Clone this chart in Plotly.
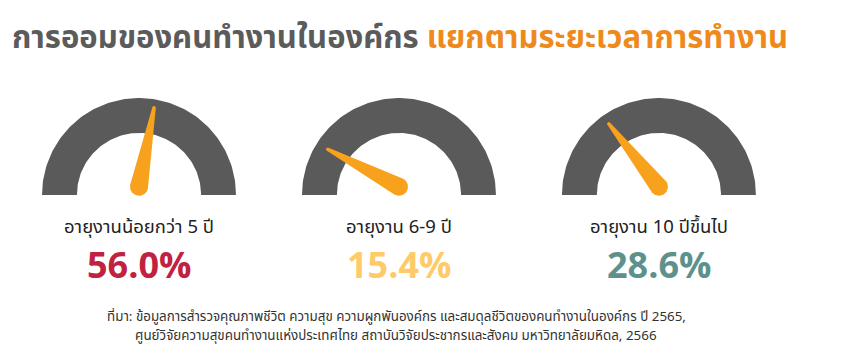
import numpy as np
import plotly.graph_objects as go

# ---- data ----
categories = ["อายุงานน้อยกว่า 5 ปี", "อายุงาน 6-9 ปี", "อายุงาน 10 ปีขึ้นไป"]
values = [56.0, 15.4, 28.6]
value_colors = ["#C0223F", "#FFCB69", "#5E918C"]
title_main = "การออมของคนทำงานในองค์กร"
title_sub = "แยกตามระยะเวลาการทำงาน"
source_lines = [
    "ที่มา: ข้อมูลการสำรวจคุณภาพชีวิต ความสุข ความผูกพันองค์กร และสมดุลชีวิตของคนทำงานในองค์กร ปี 2565,",
    "ศูนย์วิจัยความสุขคนทำงานแห่งประเทศไทย สถาบันวิจัยประชากรและสังคม มหาวิทยาลัยมหิดล, 2566",
]

# ---- style ----
THAI = "Noto Sans Thai, Noto Sans Thai UI, Noto Sans, Open Sans, sans-serif"
ARC_COLOR = "#5A5A5A"
NEEDLE_COLOR = "#F8A11C"
SPACING = 2.68
R_OUT, R_IN = 1.0, 0.64
PIVOT_DY, R_BASE, R_TIP, NEEDLE_LEN = 0.085, 0.093, 0.018, 0.83
OFF = 8  # page body margin
W, H = 856, 364
UNIT = 97.0
CX0, BASE = 139 - OFF, 195 - OFF

fig = go.Figure()

for i, (cat, v, col) in enumerate(zip(categories, values, value_colors)):
    cx = i * SPACING
    # gauge arc
    t = np.linspace(0, np.pi, 120)
    ax = np.concatenate([cx + R_OUT * np.cos(t), cx + R_IN * np.cos(t[::-1])])
    ay = np.concatenate([R_OUT * np.sin(t), R_IN * np.sin(t[::-1])])
    fig.add_trace(go.Scatter(x=ax, y=ay, fill="toself", mode="lines",
                             line=dict(width=0, color=ARC_COLOR), fillcolor=ARC_COLOR,
                             hoverinfo="skip", showlegend=False))
    # needle
    th = np.pi * (1 - v / 100.0)
    px, py = cx, PIVOT_DY
    tx, ty = px + NEEDLE_LEN * np.cos(th), py + NEEDLE_LEN * np.sin(th)
    bt = np.linspace(th + np.pi / 2, th + 3 * np.pi / 2, 40)
    tt = np.linspace(th - np.pi / 2, th + np.pi / 2, 20)
    nx = np.concatenate([px + R_BASE * np.cos(bt), tx + R_TIP * np.cos(tt)])
    ny = np.concatenate([py + R_BASE * np.sin(bt), ty + R_TIP * np.sin(tt)])
    nx = np.append(nx, nx[0]); ny = np.append(ny, ny[0])
    fig.add_trace(go.Scatter(x=nx, y=ny, fill="toself", mode="lines",
                             line=dict(width=0, color=NEEDLE_COLOR), fillcolor=NEEDLE_COLOR,
                             hoverinfo="skip", showlegend=False))
    fig.add_annotation(x=cx, y=-0.325, xref="x", yref="y", text=cat, showarrow=False,
                       height=24, valign="middle",
                       font=dict(family=THAI, size=18.5, color="#222222"))
    fig.add_annotation(x=cx, y=-0.715, xref="x", yref="y", text=f"<b>{v:.1f}%</b>",
                       showarrow=False, height=36, valign="middle",
                       font=dict(family="Open Sans, Noto Sans, sans-serif", size=36, color=col))

fig.add_annotation(x=(10 - OFF) / W, y=1 - (38 - OFF) / H, xref="paper", yref="paper",
                   xanchor="left", yanchor="middle", showarrow=False,
                   text=f"<b><span style='color:#5B5B5B'>{title_main}</span> "
                        f"<span style='color:#EE8A1C'>{title_sub}</span></b>",
                   font=dict(family=THAI, size=31))

for k, (line, ypx) in enumerate(zip(source_lines, [317, 336])):
    fig.add_annotation(x=(396 - OFF) / W, y=1 - (ypx - OFF) / H, xref="paper", yref="paper",
                       xanchor="center", yanchor="middle", showarrow=False, height=18,
                       text=line, font=dict(family=THAI, size=13.4, color="#333333"))

fig.update_layout(
    width=W, height=H, margin=dict(l=0, r=0, t=0, b=0),
    paper_bgcolor="white", plot_bgcolor="white",
    xaxis=dict(range=[-CX0 / UNIT, (W - CX0) / UNIT], visible=False, fixedrange=True),
    yaxis=dict(range=[-(H - BASE) / UNIT, BASE / UNIT], visible=False, fixedrange=True),
)

fig.write_html("out.html")
